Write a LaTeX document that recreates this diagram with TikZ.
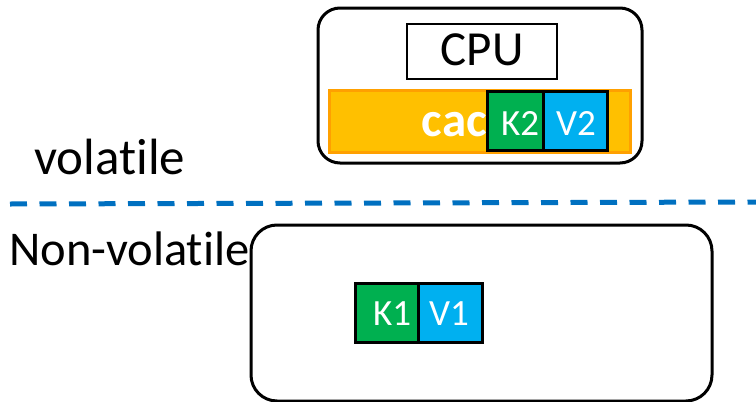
\documentclass[tikz,border=0pt]{standalone}
\usepackage{fontspec}
\setmainfont[Ligatures={NoCommon,NoRare}]{Carlito}
\definecolor{kgreen}{HTML}{00B050}
\definecolor{vblue}{HTML}{00B0F0}
\definecolor{cachefill}{HTML}{FFC000}
\definecolor{cacheedge}{HTML}{FFA000}
\definecolor{divider}{HTML}{0070C0}
\tikzset{
  region/.style={draw=black, line width=3pt, rounded corners=22pt},
  cellfont/.style={font=\fontsize{37}{37}\selectfont},
  keycell/.style={draw=black, line width=3pt, fill=kgreen, inner sep=0pt},
  valcell/.style={draw=black, line width=3pt, fill=vblue, inner sep=0pt},
  celltext/.style={text=white, inner sep=0pt, anchor=base, cellfont},
  label/.style={inner sep=0pt}
}
\begin{document}
\begin{tikzpicture}[x=1pt,y=-1pt]
\useasboundingbox (0,0) rectangle (756,402);
% volatile side: CPU package with cache
\draw[region] (318,8) rectangle (642,163);
\node[draw=black, line width=1.5pt, minimum width=150pt, minimum height=55pt, inner sep=0pt] (cpu) at (482,51.5) {};
\node[label, anchor=base, font=\fontsize{49}{49}\selectfont] (cputext) at (482,65) {CPU};
\node[draw=cacheedge, fill=cachefill, line width=3pt, minimum width=301pt, minimum height=62pt, inner sep=0pt] (cache) at (480,121) {};
\node[keycell, minimum width=56pt, minimum height=59pt] (k2) at (515.5,120.5) {};
\node[valcell, minimum width=64pt, minimum height=59pt] (v2) at (575,120.5) {};
\node[celltext] (k2text) at (520,135) {K2};
\node[celltext] (v2text) at (576,135) {V2};
\node[label, text=white, font=\fontsize{49}{49}\selectfont\bfseries, anchor=base east] (cactext) at (487,136) {cac};
% divider between volatile and non-volatile
\coordinate (dl) at (10,204);
\coordinate (dr) at (756,202);
\draw[divider, line width=5pt, dash pattern=on 17pt off 12.5pt] (dl) -- (dr);
\node[label, anchor=base west, font=\fontsize{51}{51}\selectfont] (vol) at (34,174) {volatile};
\node[label, anchor=base west, font=\fontsize{48.5}{48.5}\selectfont] (nvol) at (9,265) {Non-volatile};
% non-volatile memory
\draw[region, rounded corners=26pt] (251,225) rectangle (712,401);
\node[keycell, minimum width=63pt, minimum height=59pt] (k1) at (386.5,312.5) {};
\node[valcell, minimum width=64pt, minimum height=59pt] (v1) at (450,312.5) {};
\node[celltext] (k1text) at (392,325) {K1};
\node[celltext] (v1text) at (449,325) {V1};
\end{tikzpicture}
\end{document}
